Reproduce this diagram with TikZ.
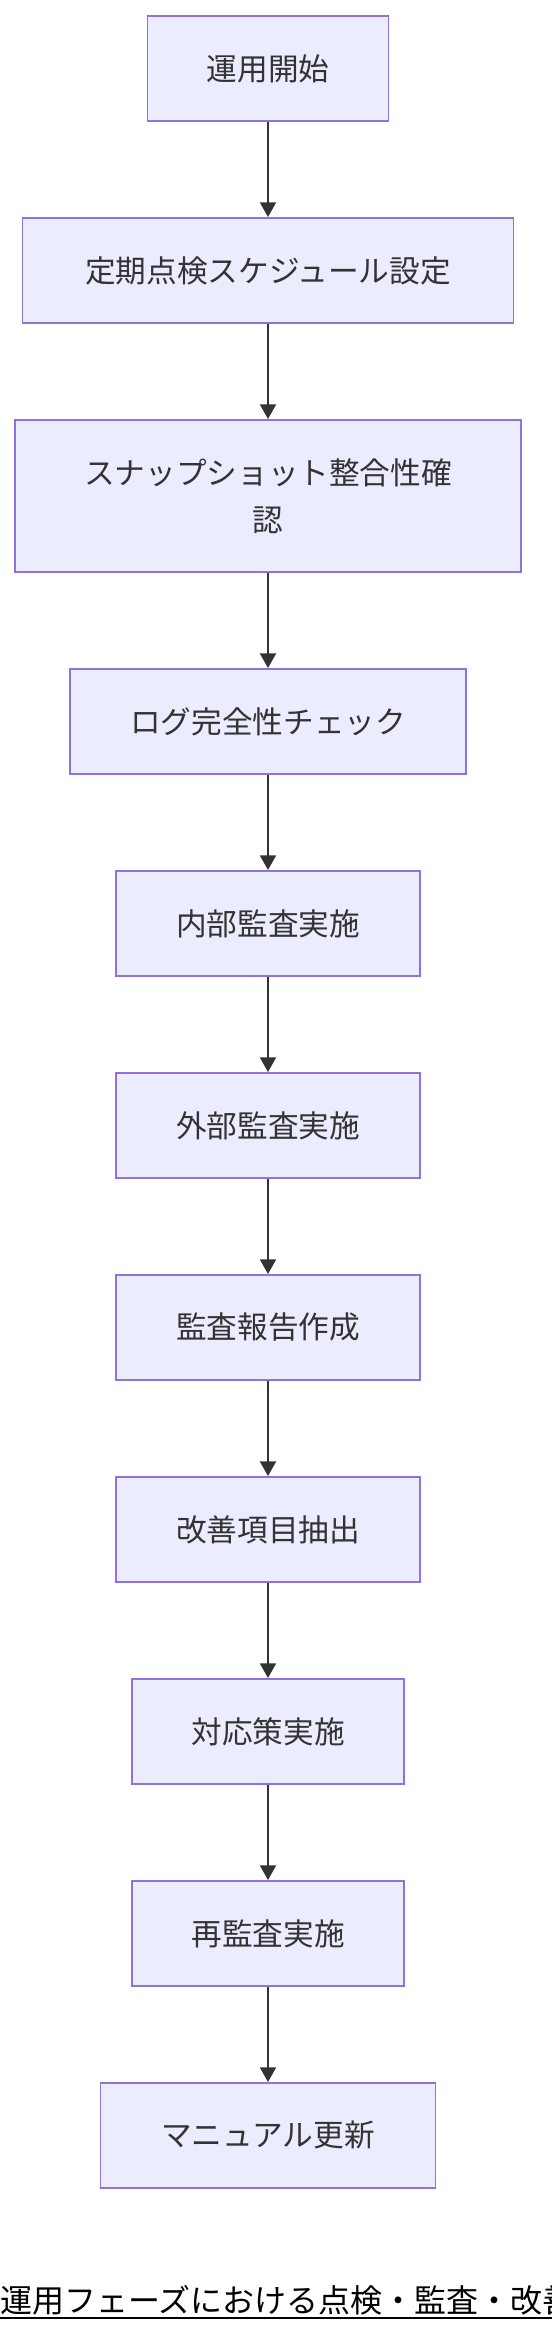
\documentclass[tikz,border=0pt]{standalone}
\usepackage{fontspec}
\setmainfont{Noto Sans CJK JP}
\usetikzlibrary{arrows.meta}
\definecolor{boxfill}{HTML}{ECECFF}
\definecolor{boxline}{HTML}{9370DB}
\definecolor{txt}{HTML}{333333}
\begin{document}
\begin{tikzpicture}[x=0.75pt,y=-0.75pt,
  stepbox/.style={draw=boxline, fill=boxfill, line width=1.4pt, text=txt,
    font=\fontsize{23pt}{35pt}\selectfont, minimum height=78.75pt,
    inner sep=0pt, align=center, anchor=north},
  flow/.style={draw=txt, line width=1.5pt, -{Triangle[width=12pt,length=11pt]}}]
\useasboundingbox (0,0) rectangle (552,2332);
\clip (0,0) rectangle (552,2332);
\node[stepbox, minimum width=180.75pt] (n1) at (268,15) {運用開始};
\node[stepbox, minimum width=368.25pt] (n2) at (268,217) {定期点検スケジュール設定};
\node[stepbox, minimum width=379.5pt, minimum height=114pt] (n3) at (268,419) {スナップショット整合性確\\認};
\node[stepbox, minimum width=297pt] (n4) at (268,668) {ログ完全性チェック};
\node[stepbox, minimum width=228pt] (n5) at (268,870) {内部監査実施};
\node[stepbox, minimum width=228pt] (n6) at (268,1072) {外部監査実施};
\node[stepbox, minimum width=228pt] (n7) at (268,1274) {監査報告作成};
\node[stepbox, minimum width=228pt] (n8) at (268,1476) {改善項目抽出};
\node[stepbox, minimum width=204pt] (n9) at (268,1678) {対応策実施};
\node[stepbox, minimum width=204pt] (n10) at (268,1880) {再監査実施};
\node[stepbox, minimum width=251.25pt] (n11) at (268,2082) {マニュアル更新};
\foreach \a/\b in {n1/n2,n2/n3,n3/n4,n4/n5,n5/n6,n6/n7,n7/n8,n8/n9,n9/n10,n10/n11}
  \draw[flow] (\a.south) -- (\b.north);
\node[anchor=west, inner sep=0pt, text=black, font=\fontsize{24pt}{28pt}\selectfont] (title) at (0,2300) {運用フェーズにおける点検・監査・改善};
\coordinate (ul1) at (0,2318);
\coordinate (ul2) at (552,2318);
\draw[black, line width=1.5pt] (ul1) -- (ul2);
\end{tikzpicture}
\end{document}
